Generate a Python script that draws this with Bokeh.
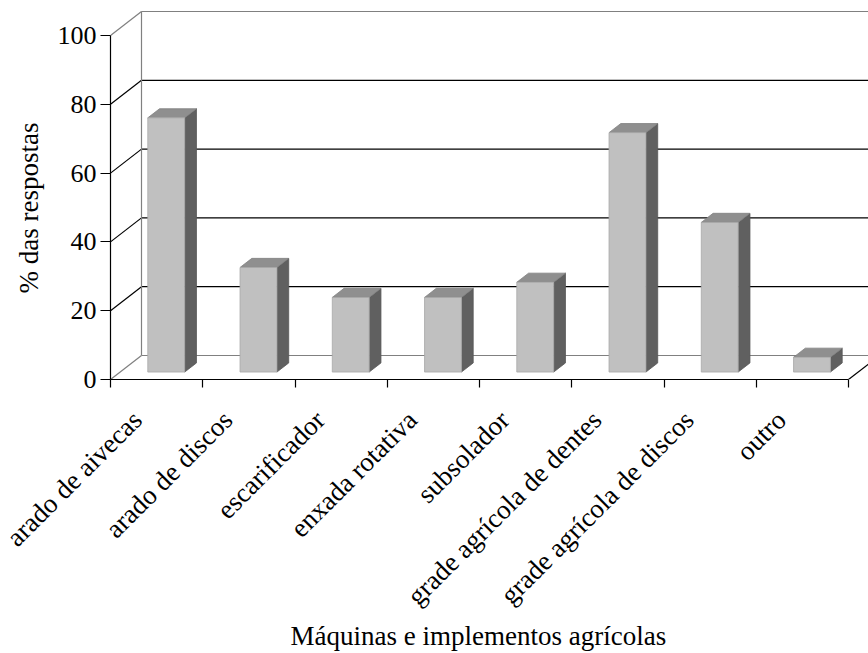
import math

from bokeh.embed import file_html
from bokeh.models import CustomJSTickFormatter, FixedTicker, Range1d, Title
from bokeh.plotting import figure
from bokeh.resources import INLINE

# Share of respondents using each machine / implement (%)
categories = [
    "arado de aivecas",
    "arado de discos",
    "escarificador",
    "enxada rotativa",
    "subsolador",
    "grade agrícola de dentes",
    "grade agrícola de discos",
    "outro",
]
values = [73.9, 30.4, 21.7, 21.7, 26.1, 69.6, 43.5, 4.3]
y_ticks = [0, 20, 40, 60, 80, 100]

x_title = "Máquinas e implementos agrícolas"
y_title = "% das respostas"

N = len(categories)
Y_MAX = y_ticks[-1]

# Pixel geometry of the frame: value 0 sits 379 px from the top, 100 at 35 px
FRAME_TOP = 5
FRAME_LEFT = 110
ZERO_PX = 379
PX_PER_CAT = 92.25
PX_PER_PCT = 3.44

# Oblique projection of the depth axis, expressed in data units
DX = 31 / PX_PER_CAT
DY = 24 / PX_PER_PCT
BAR_HALF = 0.2
D_FRONT, D_BACK = 0.31, 0.69

# Rotated category labels are pulled back along their reading direction
LABEL_SHIFT = 21 / PX_PER_CAT

FONT = "Liberation Serif"
WALL_EDGE = "#808080"
GRID = "#000000"

p = figure(
    width=868,
    height=653,
    x_range=Range1d(0, (868 - FRAME_LEFT) / PX_PER_CAT),
    y_range=Range1d(0, (ZERO_PX - FRAME_TOP) / PX_PER_PCT),
    output_backend="svg",
    toolbar_location=None,
    min_border_left=FRAME_LEFT,
    min_border_right=0,
    min_border_top=FRAME_TOP,
    min_border_bottom=653 - ZERO_PX,
)
p.outline_line_color = None
p.xgrid.visible = False
p.ygrid.visible = False
p.background_fill_color = "white"
p.border_fill_color = "white"

# Walls: diagonals on the left side wall, gridlines on the back wall
sx0, sy0, sx1, sy1, scol = [], [], [], [], []
for v in y_ticks:
    col = WALL_EDGE if v in (0, Y_MAX) else GRID
    sx0 += [0, DX]
    sy0 += [v, v + DY]
    sx1 += [DX, N + DX]
    sy1 += [v + DY, v + DY]
    scol += [col, col]
# back wall left edge
sx0.append(DX); sy0.append(DY); sx1.append(DX); sy1.append(Y_MAX + DY); scol.append(WALL_EDGE)
# floor right edge
sx0.append(N); sy0.append(0); sx1.append(N + DX); sy1.append(DY); scol.append("#000000")
p.segment(x0=sx0, y0=sy0, x1=sx1, y1=sy1, line_color=scol, line_width=1.2)

# 3-D columns: front, top and right-side faces
front_xs, front_ys, top_xs, top_ys, side_xs, side_ys = [], [], [], [], [], []
for i, val in enumerate(values):
    c = i + 0.5
    xl, xr = c - BAR_HALF, c + BAR_HALF
    fx, fy = D_FRONT * DX, D_FRONT * DY
    bx, by = D_BACK * DX, D_BACK * DY
    front_xs.append([xl + fx, xr + fx, xr + fx, xl + fx])
    front_ys.append([fy, fy, val + fy, val + fy])
    top_xs.append([xl + fx, xr + fx, xr + bx, xl + bx])
    top_ys.append([val + fy, val + fy, val + by, val + by])
    side_xs.append([xr + fx, xr + bx, xr + bx, xr + fx])
    side_ys.append([fy, by, val + by, val + fy])

p.patches(side_xs, side_ys, fill_color="#606060", line_color="#585858", line_width=0.8)
p.patches(top_xs, top_ys, fill_color="#8f8f8f", line_color="#808080", line_width=0.8)
p.patches(front_xs, front_ys, fill_color="#c0c0c0", line_color="#a8a8a8", line_width=0.8)

# Value axis
ya = p.yaxis[0]
ya.ticker = FixedTicker(ticks=y_ticks, minor_ticks=[])
ya.bounds = (0, Y_MAX)
ya.axis_line_color = "black"
ya.axis_line_width = 1.2
ya.major_tick_out = 10
ya.major_tick_in = 0
ya.major_tick_line_color = "black"
ya.major_tick_line_width = 1.2
ya.major_label_standoff = 4
ya.major_label_text_font = FONT
ya.major_label_text_font_size = "26px"
ya.major_label_text_color = "black"

# Category axis: labels near column centres, ticks at category boundaries
xa = p.xaxis[0]
xa.ticker = FixedTicker(
    ticks=[i + 0.5 - LABEL_SHIFT for i in range(N)],
    minor_ticks=list(range(N + 1)),
)
xa.formatter = CustomJSTickFormatter(args=dict(names=categories), code="return names[Math.floor(tick)];")
xa.bounds = (0, N)
xa.axis_line_color = "black"
xa.axis_line_width = 1.2
xa.major_tick_out = 0
xa.major_tick_in = 0
xa.minor_tick_out = 8
xa.minor_tick_in = 0
xa.minor_tick_line_color = "black"
xa.minor_tick_line_width = 1.2
xa.major_label_orientation = math.pi / 4
xa.major_label_standoff = 28
xa.major_label_text_font = FONT
xa.major_label_text_font_size = "27px"
xa.major_label_text_line_height = 1.0
xa.major_label_text_color = "black"

# Axis titles, stacked outside the axes
x_t = Title(
    text=x_title, align="left", offset=180, standoff=0,
    text_font=FONT, text_font_size="27px", text_font_style="normal",
    text_line_height=1.0, text_color="black",
)
try:
    # tuck the title up against the rotated category labels
    x_t.standoff = -12
except ValueError:
    x_t.standoff = 0
p.add_layout(x_t, "below")
p.add_layout(Title(
    text=y_title, align="left", offset=86, standoff=22,
    text_font=FONT, text_font_size="27px", text_font_style="normal",
    text_line_height=1.0, text_color="black",
), "left")

open("out.html", "w").write(file_html(p, INLINE))
